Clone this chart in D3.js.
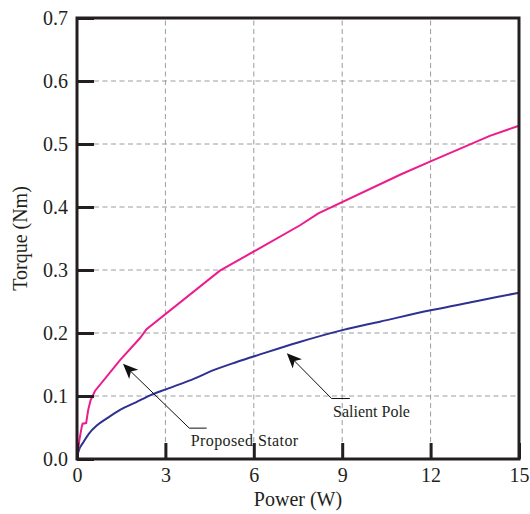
<!DOCTYPE html>
<html>
<head>
<meta charset="utf-8">
<script src="https://cdn.jsdelivr.net/npm/d3@7"></script>
<style>
  body { margin: 0; background: #fff; }
  svg { display: block; }
  svg text { font-family: "Liberation Serif", "Times New Roman", serif; }
</style>
</head>
<body>
<svg id="chart"></svg>
<script>
// values
const xTicks = [0, 3, 6, 9, 12, 15];
const yTicks = [0, 0.1, 0.2, 0.3, 0.4, 0.5, 0.6, 0.7];

const proposedPower = [0, 0.08, 0.16, 0.19, 0.31, 0.38, 0.46, 0.61, 1.46, 2.14, 2.36, 4.85, 6.1, 7.57, 8.19, 11.0, 11.98, 14.01, 15];
const proposedTorque = [0, 0.03, 0.051, 0.056, 0.057, 0.078, 0.093, 0.108, 0.157, 0.192, 0.206, 0.299, 0.332, 0.371, 0.39, 0.452, 0.472, 0.513, 0.529];

const salientPower = [0, 0.05, 0.21, 0.4, 0.67, 1.0, 1.46, 2.0, 2.48, 3.04, 4.0, 4.63, 5.42, 6.21, 7.5, 9.04, 10.28, 12, 13.5, 15];
const salientTorque = [0, 0.012, 0.026, 0.04, 0.053, 0.064, 0.078, 0.09, 0.101, 0.111, 0.128, 0.141, 0.154, 0.166, 0.185, 0.205, 0.218, 0.236, 0.25, 0.264];

// annotations: arrow tip, elbow, end of the leader line (in data units)
const annotations = [
  { label: "Proposed Stator", tip: [1.56, 0.151], elbow: [3.81, 0.049], end: [4.4, 0.049] },
  { label: "Salient Pole", tip: [7.12, 0.168], elbow: [8.64, 0.096], end: [9.26, 0.096] }
];

const width = 530, height = 514;
const margin = { top: 18, right: 11, bottom: 55, left: 77 };
const serif = "Liberation Serif";

const svg = d3.select("#chart").attr("width", width).attr("height", height);

const x = d3.scaleLinear().domain([0, 15]).range([margin.left, width - margin.right]);
const y = d3.scaleLinear().domain([0, 0.7]).range([height - margin.bottom, margin.top]);

// grid
const grid = svg.append("g").attr("stroke", "#9a9ca0").attr("stroke-width", 1).attr("stroke-dasharray", "5,3.5");
grid.selectAll(".vg").data(xTicks.slice(1, -1)).enter().append("line")
  .attr("x1", d => x(d)).attr("x2", d => x(d))
  .attr("y1", y(0)).attr("y2", y(0.7));
grid.selectAll(".hg").data(yTicks.slice(1, -1)).enter().append("line")
  .attr("x1", x(0)).attr("x2", x(15))
  .attr("y1", d => y(d)).attr("y2", d => y(d));

// series
const line = d3.line().x(d => x(d[0])).y(d => y(d[1]));
svg.append("path")
  .datum(d3.zip(salientPower, salientTorque))
  .attr("d", line.curve(d3.curveMonotoneX)).attr("fill", "none")
  .attr("stroke", "#2e3192").attr("stroke-width", 2);
svg.append("path")
  .datum(d3.zip(proposedPower, proposedTorque))
  .attr("d", line.curve(d3.curveLinear)).attr("fill", "none")
  .attr("stroke", "#ec1c8c").attr("stroke-width", 2);

// axes (ticks point inward)
const xAxis = svg.append("g")
  .attr("transform", `translate(0,${y(0)})`)
  .call(d3.axisBottom(x).tickValues(xTicks).tickSize(-16).tickPadding(23).tickFormat(d3.format("d")));
const yAxis = svg.append("g")
  .attr("transform", `translate(${x(0)},0)`)
  .call(d3.axisLeft(y).tickValues(yTicks).tickSize(-17).tickPadding(25).tickFormat(d3.format(".1f")));

[xAxis, yAxis].forEach(g => {
  g.attr("font-family", serif).attr("font-size", null);
  g.select(".domain").remove();
  g.selectAll(".tick line").attr("stroke", "#231f20").attr("stroke-width", 3);
  g.selectAll(".tick text").attr("fill", "#231f20").attr("font-size", 20).attr("font-family", serif);
});
yAxis.selectAll(".tick text").attr("dx", 16).attr("text-anchor", "end");
xAxis.selectAll(".tick text").attr("dy", 0);

// frame
svg.append("rect")
  .attr("x", x(0)).attr("y", y(0.7))
  .attr("width", x(15) - x(0)).attr("height", y(0) - y(0.7))
  .attr("fill", "none").attr("stroke", "#231f20").attr("stroke-width", 3);

// annotations
annotations.forEach(a => {
  const tx = x(a.tip[0]), ty = y(a.tip[1]);
  const ex = x(a.elbow[0]), ey = y(a.elbow[1]);
  const ang = Math.atan2(ty - ey, tx - ex);
  const len = 15, half = 6.5, notch = 11;
  // leader line stops at the notch of the head
  svg.append("polyline")
    .attr("points", [[x(a.end[0]), ey], [ex, ey],
      [tx - notch * Math.cos(ang), ty - notch * Math.sin(ang)]].map(p => p.join(",")).join(" "))
    .attr("fill", "none").attr("stroke", "#111").attr("stroke-width", 1);
  const head = [
    [0, 0], [-len, -half], [-notch, 0], [-len, half]
  ].map(([u, v]) => [tx + u * Math.cos(ang) - v * Math.sin(ang), ty + u * Math.sin(ang) + v * Math.cos(ang)]);
  svg.append("path")
    .attr("d", "M" + head.map(p => p.join(",")).join("L") + "Z")
    .attr("fill", "#111");
  svg.append("text")
    .attr("x", ex + 1.5).attr("y", ey + 18)
    .attr("font-family", serif).attr("font-size", 16).attr("fill", "#231f20")
    .attr("letter-spacing", a.label === "Proposed Stator" ? 0.4 : 0)
    .text(a.label);
});

// axis titles
svg.append("text")
  .attr("x", (x(0) + x(15)) / 2).attr("y", 506)
  .attr("text-anchor", "middle").attr("font-family", serif).attr("font-size", 20).attr("fill", "#231f20")
  .text("Power (W)");
svg.append("text")
  .attr("transform", `translate(27,${(y(0) + y(0.7)) / 2}) rotate(-90)`)
  .attr("text-anchor", "middle").attr("font-family", serif).attr("font-size", 20).attr("fill", "#231f20")
  .text("Torque (Nm)");
</script>
</body>
</html>
